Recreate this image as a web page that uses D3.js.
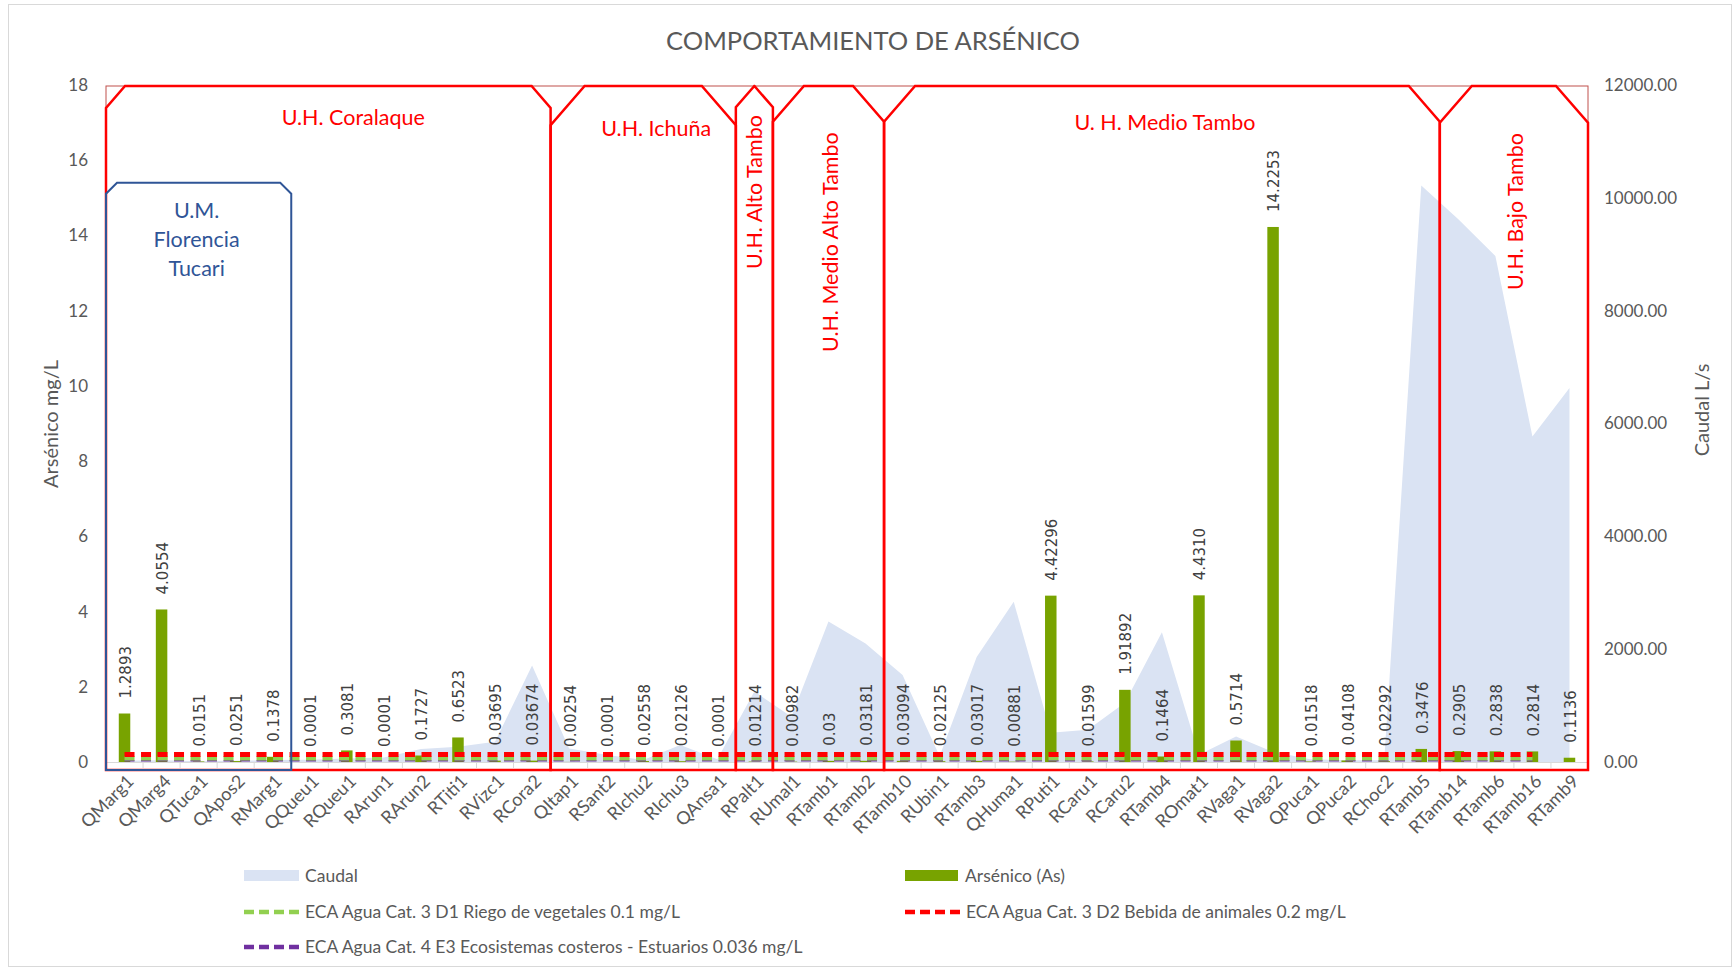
<!DOCTYPE html>
<html>
<head>
<meta charset="utf-8">
<script src="https://cdn.jsdelivr.net/npm/d3@7"></script>
<style>
  body { margin: 0; background: #fff; }
  svg { display: block; font-family: Lato, "Open Sans", sans-serif; }
</style>
</head>
<body>
<div id="chart"></div>
<script>
var w = 1735;
var h = 970;

// *** DATA ***
var categories = ["QMarg1", "QMarg4", "QTuca1", "QApos2", "RMarg1", "QQueu1", "RQueu1", "RArun1",
  "RArun2", "RTiti1", "RVizc1", "RCora2", "QItap1", "RSant2", "RIchu2", "RIchu3", "QAnsa1",
  "RPalt1", "RUmal1", "RTamb1", "RTamb2", "RTamb10", "RUbin1", "RTamb3", "QHuma1", "RPuti1",
  "RCaru1", "RCaru2", "RTamb4", "ROmat1", "RVaga1", "RVaga2", "QPuca1", "QPuca2", "RChoc2",
  "RTamb5", "RTamb14", "RTamb6", "RTamb16", "RTamb9"];

// arsenic (mg/L), kept as the label text shown on the chart
var arsenico = ["1.2893", "4.0554", "0.0151", "0.0251", "0.1378", "0.0001", "0.3081", "0.0001",
  "0.1727", "0.6523", "0.03695", "0.03674", "0.00254", "0.0001", "0.02558", "0.02126", "0.0001",
  "0.01214", "0.00982", "0.03", "0.03181", "0.03094", "0.02125", "0.03017", "0.00881", "4.42296",
  "0.01599", "1.91892", "0.1464", "4.4310", "0.5714", "14.2253", "0.01518", "0.04108", "0.02292",
  "0.3476", "0.2905", "0.2838", "0.2814", "0.1136"];

var caudal = [20, 30, 15, 20, 35, 40, 60, 80, 230, 270, 360, 1710, 240, 130, 35, 300, 50,
  1250, 800, 2490, 2100, 1540, 100, 1860, 2840, 520, 570, 1050, 2300, 130, 450, 180, 50, 30, 30,
  10220, 9620, 8970, 5770, 6630];

// ECA limit lines (mg/L), drawn from the first category up to lastLimitCategory
var limitLabels = ["ECA Agua Cat. 3 D1 Riego de vegetales 0.1 mg/L",
  "ECA Agua Cat. 3 D2 Bebida de animales 0.2 mg/L",
  "ECA Agua Cat. 4 E3 Ecosistemas costeros - Estuarios 0.036 mg/L"];
var limitValues = [0.1, 0.2, 0.036];
var lastLimitCategory = "RTamb16";

// hydrographic units drawn as frames
var regionNames = ["U.H. Coralaque", "U.H. Ichuña", "U.H. Alto Tambo", "U.H. Medio Alto Tambo",
  "U. H. Medio Tambo", "U.H. Bajo Tambo"];
var regionFirst = ["QMarg1", "QItap1", "RPalt1", "RUmal1", "RTamb10", "RTamb14"];
var regionLast = ["RCora2", "QAnsa1", "RPalt1", "RTamb2", "RTamb5", "RTamb9"];
var subRegionLines = ["U.M.", "Florencia", "Tucari"];
var subRegionFirst = "QMarg1", subRegionLast = "RMarg1";

var leftTicks = [0, 2, 4, 6, 8, 10, 12, 14, 16, 18];
var rightTicks = [0, 2000, 4000, 6000, 8000, 10000, 12000];
// **************************

var barColor = "#78a300",
    areaColor = "#dae3f3",
    limitColors = ["#92d050", "#ff0000", "#7030a0"],
    textGray = "#595959";

var svg = d3.select("#chart").append("svg")
    .attr("width", w)
    .attr("height", h);

// chart border
svg.append("rect")
    .attr("x", 8.5).attr("y", 4.5)
    .attr("width", w - 12).attr("height", h - 8)
    .attr("fill", "none").attr("stroke", "#d9d9d9");

var pLeft = 106, pRight = 1588, pTop = 85, pBottom = 762;

var x = d3.scaleBand().domain(categories).range([pLeft, pRight]).paddingInner(0).paddingOuter(0);
var y = d3.scaleLinear().domain([0, 18]).range([pBottom, pTop]);
var y2 = d3.scaleLinear().domain([0, 12000]).range([pBottom, pTop]);
var cx = function(d) { return x(d) + x.bandwidth() / 2; };

// title
svg.append("text")
    .attr("x", 873).attr("y", 50)
    .attr("text-anchor", "middle")
    .attr("fill", textGray)
    .style("font-size", "25.5px")
    .text("COMPORTAMIENTO DE ARSÉNICO");

// caudal area
var area = d3.area()
    .x(function(d, i) { return cx(categories[i]); })
    .y0(y2(0))
    .y1(function(d) { return y2(d); });
svg.append("path")
    .datum(caudal)
    .attr("fill", areaColor)
    .attr("d", area);

// category axis
svg.append("line")
    .attr("x1", pLeft).attr("x2", pRight)
    .attr("y1", pBottom + 0.5).attr("y2", pBottom + 0.5)
    .attr("stroke", "#d9d9d9");
svg.selectAll(".tickmark")
    .data(categories.concat(["__end"]))
    .enter().append("line")
    .attr("class", "tickmark")
    .attr("x1", function(d) { return d === "__end" ? pRight : x(d); })
    .attr("x2", function(d) { return d === "__end" ? pRight : x(d); })
    .attr("y1", pBottom).attr("y2", pBottom + 6)
    .attr("stroke", "#d9d9d9");

var xAxis = svg.append("g")
    .attr("transform", "translate(0," + pBottom + ")")
    .call(d3.axisBottom(x).tickSize(0));
xAxis.select(".domain").remove();
xAxis.selectAll("text")
    .attr("x", 0).attr("y", 0).attr("dy", "0.35em")
    .attr("transform", "translate(6,16) rotate(-45)")
    .style("text-anchor", "end")
    .style("font-family", "Lato, sans-serif")
    .style("font-size", "18px")
    .attr("fill", textGray);

// value axes
var yAxis = svg.append("g")
    .attr("transform", "translate(" + pLeft + ",0)")
    .call(d3.axisLeft(y).tickValues(leftTicks).tickSize(0).tickPadding(18));
yAxis.select(".domain").remove();
yAxis.selectAll("text")
    .style("font-family", "Lato, sans-serif").style("font-size", "17px").attr("fill", textGray);

var y2Axis = svg.append("g")
    .attr("transform", "translate(" + pRight + ",0)")
    .call(d3.axisRight(y2).tickValues(rightTicks).tickFormat(d3.format(".2f")).tickSize(0).tickPadding(16));
y2Axis.select(".domain").remove();
y2Axis.selectAll("text")
    .style("font-family", "Lato, sans-serif").style("font-size", "17px").attr("fill", textGray);

svg.append("text")
    .attr("transform", "translate(51,424) rotate(-90)")
    .attr("text-anchor", "middle").attr("dy", "0.35em")
    .attr("fill", textGray).style("font-size", "20px")
    .text("Arsénico mg/L");
svg.append("text")
    .attr("transform", "translate(1702,410) rotate(-90)")
    .attr("text-anchor", "middle").attr("dy", "0.35em")
    .attr("fill", textGray).style("font-size", "20px")
    .text("Caudal L/s");

// arsenic bars
var barW = x.bandwidth() * 0.31;
svg.selectAll(".bar")
    .data(arsenico)
    .enter().append("rect")
    .attr("class", "bar")
    .attr("fill", barColor)
    .attr("x", function(d, i) { return cx(categories[i]) - barW / 2; })
    .attr("y", function(d) { return y(+d); })
    .attr("width", barW)
    .attr("height", function(d) { return y(0) - y(+d); });

// limit lines (purple first, mostly hidden under the others as in the original)
var lastIdx = categories.indexOf(lastLimitCategory);
var limitOrder = [2, 0, 1];
var limitWidths = [4.5, 5, 1.5];
limitOrder.forEach(function(k) {
  var pts = categories.slice(0, lastIdx + 1);
  svg.append("path")
      .datum(pts)
      .attr("fill", "none")
      .attr("stroke", limitColors[k])
      .attr("stroke-width", limitWidths[k])
      .attr("stroke-dasharray", "10,6.5")
      .attr("d", d3.line()
          .x(function(d) { return cx(d); })
          .y(function() { return y(limitValues[k]); }));
});

// data labels
svg.selectAll(".dlabel")
    .data(arsenico)
    .enter().append("text")
    .attr("class", "dlabel")
    .attr("transform", function(d, i) {
      return "translate(" + (cx(categories[i]) + 1) + "," + (y(+d) - 15) + ") rotate(-90)";
    })
    .attr("dy", "0.36em")
    .attr("fill", "#404040")
    .style("font-family", "'DejaVu Sans', Verdana, sans-serif")
    .style("font-size", "15px")
    .text(function(d) { return d; });

// hydrographic unit frames
var frameTop = y(18) + 1, frameBottom = pBottom + 8;
var cuts = [19, 34, 18.5, 31, 31, 32];
var labelDx = [25, 13, 0, 1.5, 3, 2];
var labelY = [117, 128, 269, 352, 122, 290];
var vertical = [false, false, true, true, false, true];

// thin outline behind the frames
svg.append("rect")
    .attr("x", pLeft).attr("y", frameTop)
    .attr("width", pRight - pLeft).attr("height", frameBottom - frameTop)
    .attr("fill", "none").attr("stroke", "#c0504d").attr("stroke-width", 1);

regionNames.forEach(function(name, i) {
  var x0 = x(regionFirst[i]), x1 = x(regionLast[i]) + x.bandwidth();
  var c = cuts[i], v = c * 1.15;
  var p = d3.path();
  p.moveTo(x0, frameBottom);
  p.lineTo(x0, frameTop + v);
  p.lineTo(x0 + c, frameTop);
  p.lineTo(x1 - c, frameTop);
  p.lineTo(x1, frameTop + v);
  p.lineTo(x1, frameBottom);
  p.closePath();
  svg.append("path")
      .attr("d", p.toString())
      .attr("fill", "none")
      .attr("stroke", "#ff0000")
      .attr("stroke-width", 2.5);

  var mx = (x0 + x1) / 2 + labelDx[i];
  var t = svg.append("text")
      .attr("fill", "#ff0000")
      .style("font-size", "21.5px")
      .text(name);
  if (vertical[i]) {
    t.attr("transform", "translate(" + mx + "," + labelY[i] + ") rotate(-90)")
     .attr("dy", "0.35em");
  } else {
    t.attr("x", mx).attr("y", labelY[i]).attr("dy", "0.35em").attr("text-anchor", "middle");
  }
});

// U.M. Florencia Tucari frame
(function() {
  var x0 = x(subRegionFirst), x1 = x(subRegionLast) + x.bandwidth();
  var t0 = y(15.4), c = 11;
  var p = d3.path();
  p.moveTo(x0, frameBottom);
  p.lineTo(x0, t0 + c);
  p.lineTo(x0 + c, t0);
  p.lineTo(x1 - c, t0);
  p.lineTo(x1, t0 + c);
  p.lineTo(x1, frameBottom);
  p.closePath();
  svg.append("path")
      .attr("d", p.toString())
      .attr("fill", "none")
      .attr("stroke", "#2f5597")
      .attr("stroke-width", 2);
  svg.selectAll(".sub")
      .data(subRegionLines)
      .enter().append("text")
      .attr("x", (x0 + x1) / 2 - 2)
      .attr("y", function(d, i) { return 210 + i * 29; })
      .attr("dy", "0.35em")
      .attr("text-anchor", "middle")
      .attr("fill", "#2f5597")
      .style("font-size", "21.5px")
      .text(function(d) { return d; });
})();

// legend
var legend = svg.append("g").style("font-size", "17.5px");
function legendText(xp, yp, txt) {
  legend.append("text").attr("x", xp).attr("y", yp).attr("dy", "0.35em")
      .attr("fill", textGray).text(txt);
}
legend.append("rect").attr("x", 244).attr("y", 870).attr("width", 55).attr("height", 11)
    .attr("fill", areaColor);
legendText(305, 876, "Caudal");
legend.append("rect").attr("x", 905).attr("y", 870).attr("width", 53).attr("height", 11)
    .attr("fill", barColor);
legendText(965, 876, "Arsénico (As)");

var legPos = [[244, 912], [905, 912], [244, 947]];
limitLabels.forEach(function(lbl, k) {
  var lp = legPos[k];
  legend.append("line")
      .attr("x1", lp[0]).attr("x2", lp[0] + 55)
      .attr("y1", lp[1]).attr("y2", lp[1])
      .attr("stroke", limitColors[k]).attr("stroke-width", 4.5)
      .attr("stroke-dasharray", "10,5");
  legendText(lp[0] + 61, lp[1], lbl);
});
</script>
</body>
</html>
